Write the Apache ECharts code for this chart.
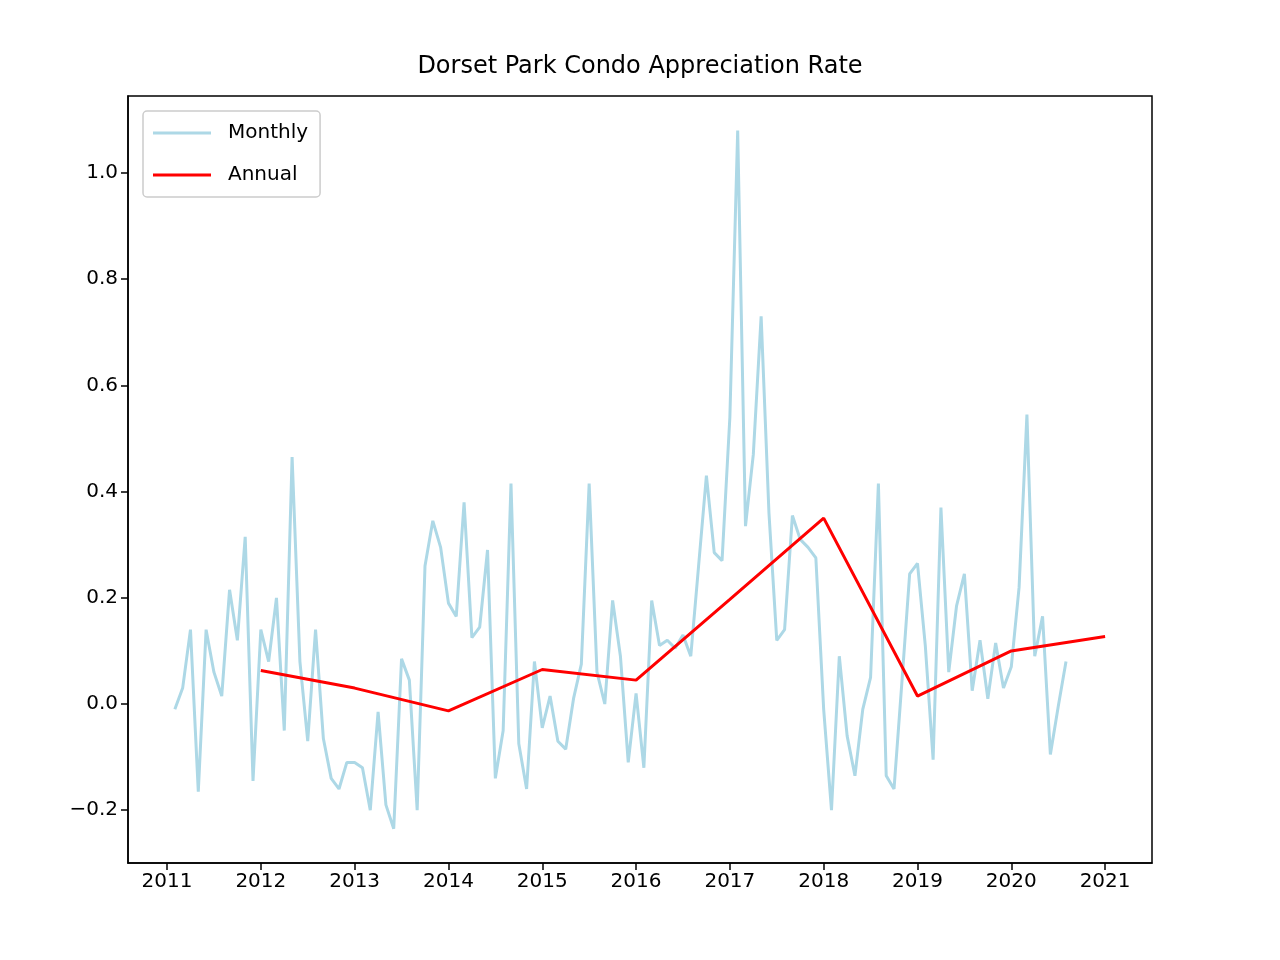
<!DOCTYPE html>
<html><head><meta charset="utf-8">
<script src="https://cdn.jsdelivr.net/npm/echarts@6/dist/echarts.min.js"></script>
<style>html,body{margin:0;padding:0;background:#fff}#c{width:1280px;height:960px}</style>
</head><body><div id="c"></div>
<script>
const monthly = [-0.01,0.03,0.14,-0.165,0.14,0.06,0.015,0.215,0.12,0.315,-0.145,0.14,
0.08,0.2,-0.05,0.465,0.08,-0.07,0.14,-0.065,-0.14,-0.16,-0.11,-0.11,
-0.12,-0.2,-0.015,-0.19,-0.235,0.085,0.045,-0.2,0.26,0.345,0.295,0.19,
0.165,0.38,0.125,0.145,0.29,-0.14,-0.05,0.415,-0.075,-0.16,0.08,-0.045,
0.015,-0.07,-0.085,0.01,0.075,0.415,0.06,0.0,0.195,0.09,-0.11,0.02,
-0.12,0.195,0.11,0.12,0.105,0.13,0.09,0.26,0.43,0.285,0.27,0.54,
1.08,0.335,0.47,0.73,0.36,0.12,0.14,0.355,0.31,0.295,0.275,-0.01,
-0.2,0.09,-0.06,-0.135,-0.01,0.05,0.415,-0.135,-0.16,0.04,0.245,0.265,
0.11,-0.105,0.37,0.06,0.185,0.245,0.025,0.12,0.01,0.115,0.03,0.07,
0.22,0.545,0.09,0.165,-0.095,-0.005,0.08];
const annualYears = [2012,2013,2014,2015,2016,2017,2018,2019,2020,2021];
const annual = [0.063,0.03,-0.013,0.065,0.045,0.197,0.35,0.015,0.1,0.127];
const xTicks = [2011,2012,2013,2014,2015,2016,2017,2018,2019,2020,2021];
const yTicks = [-0.2,0,0.2,0.4,0.6,0.8,1.0];
const monthlyData = monthly.map((v,i)=>[2011+(i+1)/12, v]);
const annualData = annual.map((v,i)=>[annualYears[i], v]);
const font = 'DejaVu Sans';
const chart = echarts.init(document.getElementById('c'));
chart.setOption({
  animation:false,
  title:{text:'Dorset Park Condo Appreciation Rate',left:'center',top:50,textStyle:{fontFamily:font,fontSize:24,fontWeight:'normal',color:'#000'}},
  legend:{left:143,top:111,orient:'vertical',itemWidth:58,itemHeight:3,itemGap:22,padding:[12,12,12,10],
    borderColor:'#ccc',borderWidth:1.5,borderRadius:4,backgroundColor:'#fff',
    textStyle:{fontFamily:font,fontSize:20,color:'#000',padding:[0,0,0,12]},data:[{name:'Monthly',icon:'rect'},{name:'Annual',icon:'rect'}]},
  grid:{left:128,right:128,top:96,bottom:97,show:true,borderColor:'#000',borderWidth:1.5},
  xAxis:{type:'value',min:2010.584,max:2021.5,splitLine:{show:false},position:'bottom',
    axisLine:{show:true,onZero:false,lineStyle:{color:'#000',width:1.5}},axisTick:{show:true,inside:false,length:7,customValues:xTicks,lineStyle:{color:'#000',width:1.5}},
    axisLabel:{customValues:xTicks,fontFamily:font,fontSize:20,color:'#000',margin:9,formatter:v=>String(Math.round(v))}},
  yAxis:{type:'value',min:-0.2994,max:1.145,splitLine:{show:false},position:'left',
    axisLine:{show:true,onZero:false,lineStyle:{color:'#000',width:1.5}},axisTick:{show:true,length:7,customValues:yTicks,lineStyle:{color:'#000',width:1.5}},
    axisLabel:{customValues:yTicks,fontFamily:font,fontSize:20,color:'#000',margin:10,
      formatter:v=>(v<0?'\u2212':'')+Math.abs(v).toFixed(1)}},
  series:[
    {name:'Monthly',type:'line',data:monthlyData,showSymbol:false,color:'#add8e6',lineStyle:{width:3,color:'#add8e6'}},
    {name:'Annual',type:'line',data:annualData,showSymbol:false,color:'#ff0000',lineStyle:{width:3,color:'#ff0000'}}
  ]
});
</script></body></html>
